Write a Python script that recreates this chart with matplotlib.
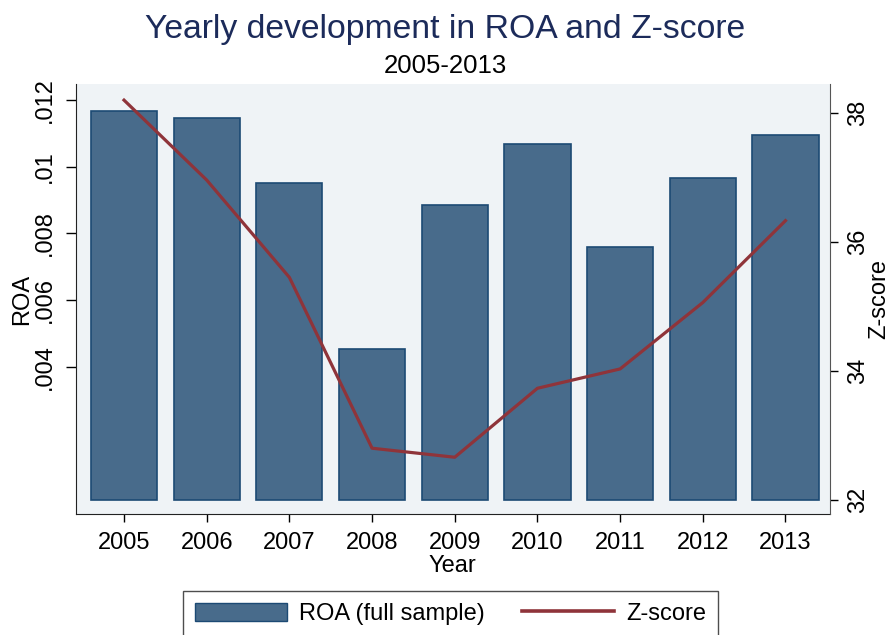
import matplotlib
matplotlib.use('Agg')
from matplotlib import pyplot as plt
from matplotlib.patches import Patch
from matplotlib.lines import Line2D

plt.rcParams['font.family'] = ['Liberation Sans', 'DejaVu Sans']

# Data
years = [2005, 2006, 2007, 2008, 2009, 2010, 2011, 2012, 2013]
roa = [0.01168, 0.01147, 0.00952, 0.00452, 0.00884, 0.01067, 0.00758, 0.00965, 0.01096]
zscore = [38.20, 36.96, 35.45, 32.80, 32.66, 33.73, 34.03, 35.06, 36.33]

roa_ticks = [0.004, 0.006, 0.008, 0.01, 0.012]
roa_ticklabels = ['.004', '.006', '.008', '.01', '.012']
z_ticks = [32, 34, 36, 38]

bar_col = '#486b8b'
bar_edge = '#1c4a74'
line_col = '#8f343a'
bg_col = '#eff3f6'
fs = 17

fig = plt.figure(figsize=(8.91, 6.35), dpi=100)
ax = fig.add_axes([0.085, 0.1906, 0.8465, 0.6771])
ax.set_facecolor(bg_col)

ax.bar(years, roa, width=0.8, color=bar_col, edgecolor=bar_edge, linewidth=1.2, zorder=2)
ax.set_xlim(2004.416, 2013.538)
ax.set_ylim(-0.00042, 0.01248)
ax.set_yticks(roa_ticks)
ax.set_yticklabels(roa_ticklabels, rotation=90, va='center')
ax.set_xticks(years)
ax.set_xticklabels([str(y) for y in years])
ax.tick_params(axis='y', length=7, width=1, labelsize=fs, pad=7)
ax.tick_params(axis='x', length=6, width=1, labelsize=fs, pad=7)
ax.set_xlabel('Year', fontsize=fs, labelpad=1)
ax.set_ylabel('ROA', fontsize=fs)
ax.yaxis.set_label_coords(-0.071, 0.5)

ax2 = ax.twinx()
ax2.plot(years, zscore, color=line_col, linewidth=2.3, zorder=3)
ax2.set_ylim(31.78, 38.45)
ax2.set_yticks(z_ticks)
ax2.set_yticklabels([str(t) for t in z_ticks], rotation=90, va='center')
ax2.tick_params(axis='y', length=6, width=1, labelsize=fs, pad=6)
ax2.set_ylabel('Z-score', fontsize=fs)
ax2.yaxis.set_label_coords(1.066, 0.5)
ax2.yaxis.label.set_va('center')
ax.yaxis.label.set_va('center')

for a in (ax, ax2):
    a.spines['top'].set_visible(False)
ax.spines['right'].set_visible(False)
ax2.spines['left'].set_visible(False)
ax2.spines['bottom'].set_visible(False)
ax.spines['left'].set_color('#222222')
ax.spines['bottom'].set_color('#222222')
ax2.spines['right'].set_color('#555555')

fig.text(0.5, 0.953, 'Yearly development in ROA and Z-score', ha='center', va='center',
         fontsize=24.3, color='#1c2b5a')
fig.text(0.5, 0.896, '2005-2013', ha='center', va='center', fontsize=18.5)

handles = [Patch(facecolor=bar_col, edgecolor=bar_edge, linewidth=1),
           Line2D([0], [0], color=line_col, linewidth=2.6)]
leg = fig.legend(handles, ['ROA (full sample)', 'Z-score'], ncol=2, fontsize=fs,
                 loc='upper left', bbox_to_anchor=(183 / 891, 1 - 591 / 635),
                 frameon=True, fancybox=False, edgecolor='#222222',
                 handlelength=3.9, handleheight=0.8, handletextpad=0.5,
                 columnspacing=1.6, borderpad=0.5, borderaxespad=0)
leg.get_frame().set_linewidth(1)

fig.savefig('out.png', dpi=100, facecolor='white')
